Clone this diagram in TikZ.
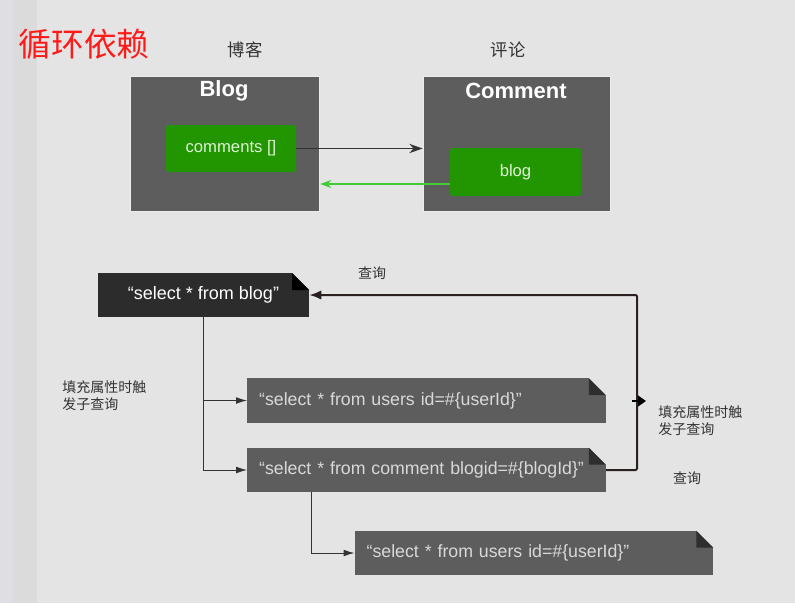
\documentclass[tikz,border=0pt]{standalone}
\usepackage{fontspec}
\setmainfont{Liberation Sans}
\newfontfamily\cjk{Noto Sans CJK SC}
\usetikzlibrary{arrows.meta,calc}
\definecolor{bgc}{HTML}{E4E4E4}
\definecolor{stripa}{HTML}{DEDEE3}
\definecolor{stripb}{HTML}{DBDBDB}
\definecolor{boxc}{HTML}{5D5D5D}
\definecolor{darkc}{HTML}{2C2C2C}
\definecolor{greenc}{HTML}{229600}
\definecolor{greentext}{HTML}{DDF2D6}
\definecolor{foldc}{HTML}{2E2E2E}
\definecolor{loopc}{HTML}{2A2020}
\definecolor{titlec}{HTML}{FF1A1A}
\definecolor{labc}{HTML}{333333}
\definecolor{garrow}{HTML}{3DCC33}
\tikzset{
  classbox/.style={fill=boxc, draw=white!85!gray, line width=0.6pt, minimum width=#1, minimum height=101.25pt, inner sep=0pt},
  classtitle/.style={text=white, font=\bfseries\fontsize{16.5pt}{18pt}\selectfont},
  fieldbox/.style={fill=greenc, rounded corners=2pt, inner sep=0pt, text=greentext, font=\fontsize{12.5pt}{14pt}\selectfont},
  querybox/.style={fill=boxc, inner sep=0pt, inner xsep=9pt, minimum height=33.5pt, text width=251pt, align=left, text=white!85!black,
    font=\fontsize{13.3pt}{15pt}\selectfont,
    path picture={
      \fill[bgc] ([xshift=-12.75pt]path picture bounding box.north east) -- (path picture bounding box.north east) -- ++(0pt,-12.75pt) -- cycle;
      \fill[#1] ([xshift=-12.75pt]path picture bounding box.north east) -- ++(0pt,-12.75pt) -- ++(12.75pt,0pt) -- cycle;
    }},
  cnlabel/.style={text=labc, font=\cjk\fontsize{10.5pt}{12.75pt}\selectfont, inner sep=0pt},
  toparrow/.style={draw=labc, line width=1pt, -{Stealth[length=10pt,width=7pt]}},
  greenarrow/.style={draw=garrow, line width=0.8pt, -{Stealth[length=8pt,width=6pt]}},
  looparrow/.style={draw=loopc, line width=1.5pt, -{Latex[length=9pt,width=7pt]}},
  brancharrow/.style={draw=labc, line width=0.7pt, -{Latex[length=8pt,width=5pt]}},
}
\begin{document}
\begin{tikzpicture}[x=0.75pt,y=-0.75pt]
\useasboundingbox (0,0) rectangle (795,603);
\fill[bgc] (0,0) rectangle (795,603);
\fill[stripb] (0,0) rectangle (37,603);
\fill[stripa] (0,0) rectangle (13,603);

% title
\node[text=titlec, font=\cjk\fontsize{24.5pt}{26pt}\selectfont, inner sep=0pt] (title) at (84,44) {循环依赖};
\node[cnlabel, font=\cjk\fontsize{13pt}{15pt}\selectfont] (lblog) at (245,50) {博客};
\node[cnlabel, font=\cjk\fontsize{13pt}{15pt}\selectfont] (lcomment) at (508,50) {评论};

% class boxes
\node[classbox=141.75pt] (Blog) at (224.5,143.5) {};
\node[classtitle] (Blogt) at (224,91) {Blog};
\node[fieldbox, minimum width=97.5pt, minimum height=35.25pt] (comments) at (231,148.5) {comments []};

\node[classbox=140.25pt] (Comment) at (516.5,143.5) {};
\node[classtitle] (Commentt) at (516,91) {Comment};
\node[fieldbox, minimum width=98.25pt, minimum height=36pt] (blogf) at (515.5,172) {blog};

\draw[toparrow] (comments.east) -- (comments.east -| Comment.west);
\coordinate (gy) at (0,184);
\draw[greenarrow] (blogf.west |- gy) -- ([xshift=0.8pt]Blog.east |- gy);

% queries
\node[fill=darkc, inner sep=0pt, minimum width=158.25pt, minimum height=33pt, text=white, font=\fontsize{13.5pt}{15pt}\selectfont,
  path picture={
      \fill[bgc] ([xshift=-12.75pt]path picture bounding box.north east) -- (path picture bounding box.north east) -- ++(0pt,-12.75pt) -- cycle;
      \fill[black] ([xshift=-12.75pt]path picture bounding box.north east) -- ++(0pt,-12.75pt) -- ++(12.75pt,0pt) -- cycle;
  }] (q1) at (203.5,295) {“select * from blog”};
\node[querybox=foldc] (q2) at (426.5,400.5) {“select * from users id=\#\{userId\}”};
\node[querybox=foldc] (q3) at (426.5,470) {“select * from comment blogid=\#\{blogId\}”};
\node[querybox=foldc, minimum width=268.5pt] (q4) at (534,553) {“select * from users id=\#\{userId\}”};

% labels
\node[cnlabel] (lq1) at (372,273) {查询};
\node[cnlabel, anchor=west, align=left] (lsub1) at (62,395.5) {填充属性时触\\发子查询};
\node[cnlabel, anchor=west, align=left] (lsub2) at (658,420.5) {填充属性时触\\发子查询};
\node[cnlabel] (lq2) at (687,478) {查询};

% connectors
\draw[brancharrow] (q1.south) |- (q2.west);
\draw[brancharrow] (q1.south) |- (q3.west);
\coordinate (b3) at (311,492);
\draw[brancharrow] (b3) |- (q4.west);
\coordinate (lp) at (637,295);
\draw[looparrow, rounded corners=1pt] (q3.east) -| (lp) -- (q1.east);

% cursor arrow
\coordinate (c1) at (632,401);
\coordinate (c2) at (646,401);
\draw[line width=2pt, -{Triangle[length=6pt,width=8pt]}] (c1) -- (c2);
\end{tikzpicture}
\end{document}
